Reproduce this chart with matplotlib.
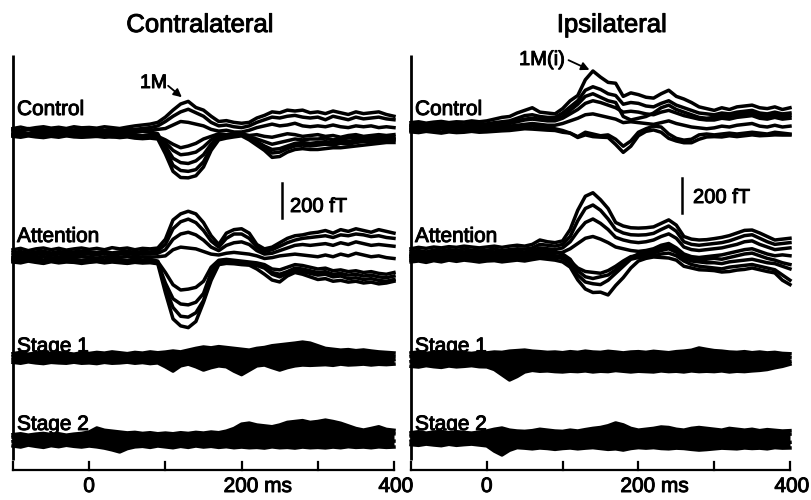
import numpy as np
import matplotlib.pyplot as plt
from matplotlib import patheffects
from matplotlib.patches import FancyArrowPatch

plt.rcParams['font.family'] = ['Liberation Sans', 'DejaVu Sans']

# sample times (ms)
TIME_MS = list(range(-100, 401, 10))

# ---- contralateral, field values per channel in fT ----
CONTRA_CONTROL = [
    [20, 28, 18, 25, 30, 22, 27, 20, 30, 24,
     26, 22, 30, 25, 20, 28, 35, 40, 45, 55,
     85, 125, 160, 175, 140, 125, 90, 60, 65, 55,
     50, 55, 80, 95, 115, 110, 125, 120, 125, 110,
     115, 105, 120, 110, 100, 115, 105, 110, 115, 100, 90],
    [10, 5, 15, 8, 12, 5, 10, 15, 8, 12,
     10, 15, 8, 12, 10, 5, 15, 20, 25, 35,
     60, 90, 115, 130, 110, 90, 55, 35, 40, 30,
     25, 35, 55, 70, 85, 80, 90, 95, 85, 80,
     85, 70, 90, 80, 70, 85, 75, 80, 85, 75, 70],
    [-5, 0, -8, 2, -3, -8, 0, -5, 3, -2,
     -5, 0, -6, 0, -5, -2, 0, 5, 10, 15,
     20, 40, 60, 55, 45, 35, 15, 5, 10, 0,
     0, 10, 25, 35, 45, 35, 40, 50, 35, 30,
     35, 30, 40, 30, 25, 35, 30, 35, 25, 30, 25],
    [-15, -10, -20, -12, -18, -10, -15, -20, -12, -18,
     -15, -20, -12, -18, -15, -20, -15, -20, -15, -25,
     -45, -70, -90, -80, -65, -40, -25, -10, -15, -10,
     -10, -20, -15, -25, -30, -20, -10, -15, -25, -20,
     -15, -25, -20, -30, -20, -15, -25, -20, -15, -20, -15],
    [-20, -25, -18, -22, -28, -20, -25, -18, -22, -28,
     -22, -25, -20, -28, -25, -22, -28, -30, -25, -32,
     -80, -150, -175, -180, -165, -130, -70, -30, -30, -20,
     -18, -35, -55, -80, -100, -95, -80, -65, -60, -65,
     -60, -55, -60, -50, -55, -45, -50, -45, -40, -45, -40],
    [-25, -30, -22, -28, -32, -25, -30, -22, -28, -30,
     -28, -25, -30, -27, -32, -28, -35, -38, -35, -40,
     -125, -225, -260, -262, -250, -200, -105, -45, -35, -28,
     -22, -45, -75, -105, -145, -140, -115, -100, -95, -100,
     -100, -95, -90, -90, -85, -80, -75, -70, -65, -60, -60],
    [-12, -18, -8, -15, -20, -12, -8, -15, -18, -10,
     -12, -8, -18, -10, -15, -10, -20, -25, -20, -28,
     -60, -105, -130, -125, -115, -85, -45, -20, -22, -15,
     -12, -28, -40, -55, -70, -60, -50, -40, -45, -40,
     -40, -35, -45, -38, -35, -30, -35, -30, -28, -32, -30],
    [15, 8, 20, 12, 18, 10, 15, 8, 12, 18,
     12, 18, 10, 15, 12, 18, 10, 5, 0, -10,
     -100, -190, -220, -225, -215, -170, -90, -35, -25, -20,
     -15, -30, -60, -90, -120, -115, -95, -80, -75, -80,
     -75, -70, -75, -65, -70, -60, -55, -55, -50, -50, -45],
]

CONTRA_ATTENTION = [
    [30, 38, 25, 35, 40, 30, 38, 28, 35, 40,
     32, 38, 30, 42, 35, 40, 30, 38, 35, 40,
     90, 200, 235, 250, 235, 185, 110, 60, 125, 145,
     150, 125, 60, 35, 45, 70, 95, 110, 115, 125,
     130, 140, 125, 145, 135, 150, 140, 130, 145, 135, 125],
    [15, 20, 10, 18, 22, 12, 20, 15, 18, 22,
     18, 15, 20, 12, 18, 22, 15, 20, 18, 25,
     60, 150, 190, 205, 185, 140, 80, 45, 95, 120,
     120, 95, 45, 20, 30, 50, 70, 85, 95, 100,
     105, 110, 100, 115, 110, 120, 115, 105, 110, 100, 95],
    [0, 5, -5, 3, 8, -2, 5, 0, 4, 8,
     5, 0, 8, -3, 5, 8, 2, 6, 5, 10,
     30, 90, 120, 130, 115, 85, 45, 25, 55, 70,
     75, 60, 25, 5, 10, 25, 40, 55, 60, 55,
     60, 65, 55, 70, 60, 75, 65, 55, 60, 55, 50],
    [-15, -10, -20, -12, -8, -18, -12, -15, -10, -8,
     -12, -18, -10, -15, -12, -8, -15, -10, -12, -10,
     -5, 30, 45, 40, 35, 20, 5, 0, 10, 15,
     10, 5, -5, -20, -15, -5, 0, 5, 0, -5,
     -10, 0, -10, 5, -5, 10, 0, -10, -5, -15, -20],
    [-25, -30, -20, -28, -35, -22, -30, -25, -28, -32,
     -28, -25, -32, -25, -30, -35, -28, -32, -30, -38,
     -100, -170, -200, -195, -185, -150, -70, -30, -25, -30,
     -35, -40, -45, -55, -80, -85, -70, -55, -60, -70,
     -80, -75, -90, -85, -95, -90, -100, -95, -105, -110, -100],
    [-35, -40, -30, -38, -45, -32, -40, -35, -38, -42,
     -38, -35, -42, -35, -40, -45, -38, -42, -40, -45,
     -160, -250, -280, -285, -270, -220, -100, -40, -35, -40,
     -45, -50, -55, -70, -100, -110, -95, -75, -80, -90,
     -100, -95, -110, -105, -115, -110, -120, -115, -125, -130, -120],
    [-20, -25, -15, -22, -28, -18, -24, -20, -25, -30,
     -25, -20, -28, -22, -26, -30, -24, -28, -25, -35,
     -190, -300, -350, -355, -330, -260, -130, -50, -40, -45,
     -50, -55, -60, -75, -110, -125, -105, -90, -95, -105,
     -115, -110, -125, -120, -135, -130, -140, -135, -145, -150, -140],
    [-40, -45, -35, -42, -48, -38, -45, -40, -42, -48,
     -42, -38, -45, -40, -44, -48, -42, -46, -44, -50,
     -215, -365, -405, -415, -380, -270, -145, -55, -48, -50,
     -55, -58, -80, -110, -143, -154, -120, -100, -110, -125,
     -140, -135, -150, -145, -155, -150, -160, -155, -165, -160, -150],
]

CONTRA_STAGE1 = [
    [25, 32, 22, 28, 35, 25, 30, 28, 22, 30,
     26, 32, 28, 35, 30, 25, 32, 28, 35, 30,
     34, 40, 35, 45, 55, 63, 58, 65, 60, 55,
     50, 45, 55, 60, 70, 75, 80, 85, 91, 85,
     70, 55, 50, 45, 48, 42, 46, 40, 35, 32, 29],
    [8, 15, 5, 12, 18, 8, 12, 10, 5, 12,
     10, 15, 12, 18, 12, 8, 15, 12, 18, 12,
     15, 20, 15, 25, 30, 38, 32, 40, 35, 30,
     28, 22, 30, 35, 40, 45, 50, 55, 60, 50,
     40, 30, 28, 22, 25, 20, 25, 18, 15, 12, 10],
    [-10, -5, -15, -8, -3, -12, -8, -10, -15, -8,
     -12, -8, -10, -5, -10, -15, -8, -12, -5, -10,
     -20, -40, -25, -15, -20, -35, -25, -20, -15, -30,
     -40, -25, -15, -10, -20, -35, -25, -15, -10, -15,
     -20, -15, -18, -25, -20, -15, -22, -18, -12, -15, -10],
    [-25, -30, -22, -28, -32, -25, -28, -30, -24, -30,
     -28, -32, -25, -30, -28, -24, -30, -26, -32, -28,
     -50, -75, -45, -35, -50, -69, -55, -45, -50, -75,
     -95, -70, -45, -40, -55, -69, -55, -45, -40, -42,
     -40, -38, -42, -35, -40, -38, -35, -40, -36, -38, -35],
]

CONTRA_STAGE2 = [
    [25, 30, 22, 28, 32, 25, 30, 22, 28, 32,
     40, 63, 50, 45, 40, 35, 38, 32, 36, 30,
     34, 30, 36, 32, 38, 34, 40, 36, 45, 60,
     85, 91, 80, 75, 70, 80, 95, 100, 105, 95,
     100, 108, 100, 90, 75, 60, 51, 60, 70, 55, 50],
    [10, 15, 5, 12, 18, 8, 15, 5, 12, 18,
     20, 40, 30, 25, 20, 15, 18, 12, 16, 10,
     15, 10, 18, 12, 20, 15, 22, 18, 25, 35,
     55, 60, 50, 45, 40, 50, 65, 70, 75, 65,
     70, 75, 70, 60, 50, 40, 30, 40, 45, 35, 30],
    [-15, -10, -20, -12, -8, -18, -12, -20, -15, -10,
     -15, -20, -25, -35, -40, -25, -20, -15, -18, -12,
     -15, -20, -12, -18, -10, -15, -8, -12, -5, 0,
     10, 15, 5, 0, -5, 5, 15, 20, 25, 15,
     20, 25, 20, 10, 0, -10, -15, -5, 0, -10, -12],
    [-40, -46, -35, -42, -48, -38, -44, -36, -42, -46,
     -40, -45, -52, -62, -74, -55, -45, -42, -48, -40,
     -45, -50, -42, -48, -40, -46, -42, -48, -44, -50,
     -46, -50, -48, -52, -45, -50, -48, -52, -46, -50,
     -48, -51, -46, -50, -44, -48, -46, -50, -45, -48, -46],
]

# ---- ipsilateral ----
IPSI_CONTROL = [
    [25, 30, 22, 28, 32, 25, 30, 28, 35, 30,
     35, 45, 55, 60, 80, 95, 110, 85, 80, 75,
     105, 150, 180, 270, 320, 285, 255, 250, 175, 195,
     185, 170, 165, 190, 210, 175, 160, 140, 115, 105,
     95, 110, 100, 115, 120, 125, 110, 105, 115, 100, 110],
    [10, 15, 8, 12, 18, 10, 15, 12, 20, 15,
     18, 25, 30, 35, 50, 65, 70, 60, 55, 55,
     80, 115, 150, 210, 230, 215, 190, 180, 130, 140,
     135, 120, 115, 135, 150, 125, 110, 95, 80, 75,
     70, 80, 75, 85, 90, 95, 80, 75, 85, 75, 80],
    [-5, 0, -8, -2, 3, -5, 0, -3, 5, 0,
     5, 10, 15, 20, 30, 40, 45, 40, 35, 35,
     50, 75, 100, 135, 150, 140, 125, 110, 85, 90,
     85, 75, 70, 85, 95, 80, 65, 55, 45, 40,
     40, 50, 45, 55, 60, 65, 50, 45, 55, 45, 50],
    [-15, -10, -18, -12, -8, -15, -10, -14, -8, -12,
     -10, -5, 0, 5, 10, 15, 20, 15, 10, 10,
     20, 35, 50, 70, 75, 65, 55, 45, 25, 30,
     25, 20, 15, 25, 35, 20, 10, 0, -5, -10,
     -5, 5, 0, 10, 15, 20, 5, 0, 10, 0, 5],
    [-20, -25, -18, -22, -28, -20, -25, -22, -18, -25,
     -20, -18, -15, -10, -5, 0, 5, 0, -5, -10,
     -20, -35, -55, -30, -40, -50, -45, -70, -110, -80,
     -30, -10, 5, 0, -40, -65, -75, -70, -45, -40,
     -45, -40, -35, -40, -35, -30, -35, -40, -30, -35, -40],
    [-28, -32, -25, -30, -35, -28, -32, -30, -25, -30,
     -28, -25, -22, -20, -15, -10, -12, -15, -18, -20,
     -30, -35, -60, -45, -55, -58, -60, -100, -145, -110,
     -50, -25, -17, -30, -65, -80, -90, -90, -70, -57,
     -55, -57, -50, -55, -50, -45, -50, -48, -45, -46, -46],
    [5, 10, 2, 8, 12, 5, 8, 5, 10, 8,
     10, 15, 20, 25, 35, 45, 50, 45, 40, 45,
     60, 95, 130, 175, 190, 170, 150, 140, 60, 40,
     50, 60, 80, 110, 125, 100, 85, 70, 55, 50,
     55, 65, 60, 70, 75, 80, 65, 60, 70, 60, 65],
]

IPSI_ATTENTION = [
    [30, 38, 32, 40, 35, 42, 38, 45, 40, 35,
     40, 45, 38, 45, 50, 45, 55, 80, 70, 65,
     75, 140, 250, 330, 350, 310, 260, 180, 160, 150,
     148, 150, 155, 175, 195, 165, 100, 85, 80, 82,
     88, 95, 105, 120, 135, 137, 120, 100, 80, 85, 90],
    [15, 20, 12, 22, 18, 25, 20, 28, 22, 18,
     22, 28, 20, 25, 30, 28, 35, 55, 50, 45,
     55, 100, 190, 260, 280, 250, 200, 140, 120, 110,
     108, 110, 118, 140, 160, 130, 70, 55, 50, 55,
     60, 65, 75, 90, 105, 110, 90, 70, 55, 60, 65],
    [0, 5, -3, 8, 2, 10, 5, 12, 8, 2,
     8, 12, 5, 10, 15, 12, 20, 35, 30, 25,
     35, 70, 130, 180, 200, 175, 140, 95, 80, 70,
     65, 70, 80, 100, 115, 90, 40, 25, 20, 25,
     30, 35, 45, 55, 70, 75, 55, 40, 25, 30, 35],
    [-15, -10, -18, -5, -12, -5, -10, -2, -8, -14,
     -8, -5, -12, -8, 0, -5, 5, 15, 10, 5,
     10, 30, 60, 90, 100, 85, 65, 40, 30, 20,
     15, 20, 30, 50, 60, 35, 0, -15, -20, -15,
     -10, -5, 5, 15, 25, 30, 15, 0, -10, -5, -10],
    [-25, -20, -30, -18, -25, -15, -22, -15, -20, -28,
     -20, -18, -25, -20, -12, -18, -10, 0, -5, -10,
     -15, -40, -80, -100, -105, -110, -95, -70, -40, -15,
     -10, -5, 5, 20, 30, 10, -25, -40, -45, -50,
     -50, -55, -45, -40, -35, -30, -40, -50, -55, -70, -85],
    [-35, -30, -40, -28, -35, -25, -32, -25, -30, -38,
     -30, -28, -35, -30, -22, -28, -20, -10, -15, -20,
     -25, -55, -120, -160, -170, -175, -150, -110, -70, -30,
     -20, -15, -10, 0, 5, -10, -40, -60, -70, -75,
     -80, -85, -75, -70, -65, -60, -70, -80, -90, -120, -150],
    [-45, -40, -48, -38, -45, -35, -42, -35, -40, -46,
     -40, -38, -45, -40, -35, -40, -32, -25, -30, -35,
     -45, -75, -148, -200, -220, -218, -234, -180, -135, -80,
     -40, -25, -17, -20, -23, -35, -70, -80, -90, -92,
     -95, -103, -100, -92, -88, -80, -90, -100, -108, -150, -175],
    [-10, -5, -12, 0, -8, 2, -5, 5, -2, -8,
     -2, 2, -5, 0, 8, 2, 10, 20, 15, 10,
     0, -30, -95, -130, -140, -130, -120, -90, -55, -20,
     0, 10, 20, 35, 45, 20, -15, -30, -35, -30,
     -25, -30, -20, -10, 0, 5, -10, -25, -35, -50, -60],
]

IPSI_STAGE1 = [
    [35, 40, 32, 38, 42, 35, 40, 36, 32, 38,
     35, 40, 38, 45, 48, 51, 45, 42, 38, 40,
     36, 42, 38, 45, 40, 38, 44, 40, 35, 40,
     42, 38, 44, 40, 36, 42, 45, 50, 63, 55,
     48, 45, 40, 38, 42, 36, 40, 35, 38, 32, 30],
    [15, 20, 12, 18, 22, 15, 20, 16, 12, 18,
     15, 20, 18, 22, 25, 28, 22, 20, 15, 18,
     15, 20, 15, 22, 18, 15, 20, 18, 12, 18,
     20, 15, 22, 18, 12, 20, 22, 28, 38, 30,
     25, 22, 18, 15, 20, 12, 18, 12, 15, 10, 8],
    [-15, -10, -18, -12, -8, -15, -10, -14, -18, -12,
     -15, -30, -55, -85, -70, -45, -35, -30, -25, -30,
     -35, -40, -30, -38, -45, -40, -35, -42, -38, -35,
     -40, -35, -42, -38, -45, -40, -35, -30, -25, -30,
     -35, -30, -38, -32, -28, -35, -30, -25, -28, -20, -15],
    [-42, -46, -38, -44, -48, -40, -45, -42, -38, -44,
     -45, -60, -90, -120, -100, -74, -65, -70, -68, -72,
     -74, -70, -72, -68, -74, -70, -72, -66, -70, -74,
     -70, -72, -74, -68, -72, -70, -74, -68, -72, -70,
     -72, -68, -74, -70, -72, -68, -65, -60, -50, -42, -30],
]

IPSI_STAGE2 = [
    [30, 36, 28, 34, 38, 30, 36, 32, 28, 34,
     40, 50, 57, 45, 40, 38, 42, 50, 45, 40,
     38, 45, 40, 48, 55, 60, 70, 86, 75, 55,
     45, 50, 55, 63, 60, 50, 45, 55, 60, 55,
     50, 45, 55, 50, 45, 50, 42, 48, 44, 40, 42],
    [12, 18, 10, 16, 20, 12, 18, 14, 10, 16,
     20, 30, 35, 25, 20, 18, 22, 30, 25, 20,
     18, 25, 20, 28, 35, 40, 50, 60, 50, 35,
     25, 30, 35, 40, 38, 30, 25, 35, 40, 35,
     30, 25, 35, 30, 25, 30, 22, 28, 24, 20, 22],
    [-18, -12, -20, -14, -10, -18, -12, -16, -20, -14,
     -20, -50, -75, -45, -30, -25, -20, -15, -22, -28,
     -30, -25, -35, -28, -20, -25, -30, -35, -40, -30,
     -25, -20, -15, -25, -35, -40, -35, -30, -25, -30,
     -35, -30, -25, -30, -35, -28, -32, -30, -35, -28, -25],
    [-38, -42, -35, -40, -44, -36, -42, -38, -35, -40,
     -45, -75, -97, -70, -55, -58, -62, -57, -60, -65,
     -60, -57, -62, -58, -55, -60, -65, -62, -69, -60,
     -55, -58, -55, -60, -62, -58, -60, -65, -69, -66,
     -62, -58, -60, -62, -57, -60, -58, -62, -55, -58, -57],
]

CONDITIONS = ['Control', 'Attention', 'Stage 1', 'Stage 2']
PANEL_TITLES = ['Contralateral', 'Ipsilateral']
PANEL_DATA = [
    [CONTRA_CONTROL, CONTRA_ATTENTION, CONTRA_STAGE1, CONTRA_STAGE2],
    [IPSI_CONTROL, IPSI_ATTENTION, IPSI_STAGE1, IPSI_STAGE2],
]
# conditions without an evoked response print as one solid noise band
SOLID_BAND = [False, False, True, True]
TICKS_MS = [-100, 0, 100, 200, 300, 400]
SCALE_FT = 200

# ---- layout (figure pixels, y measured from top) ----
W, H = 812, 500
FT_PER_PX = 200 / 35
PANEL_X = [(13, 394), (411, 790)]          # pixel x of -100 ms and 400 ms
BASE_ROWS = [[132, 255, 358, 439], [127, 254, 359, 438]]
LABEL_ROWS = [115, 242, 352, 430]
TITLE_X = [200, 612]
SCALE_X_MS = [253, 257]
SCALE_BOTTOM = [218, 213]
SCALE_TEXT = [(290, 212), (693, 203)]

# scanned print looks heavy: thicken glyphs a little
HEAVY = [patheffects.withStroke(linewidth=0.7, foreground='black')]


def yrow(px):
    return (H - px) * FT_PER_PX


def fx(px):
    return px / W


def fy(px):
    return 1 - px / H


def label(x, y, s, size, ha='left'):
    fig.text(fx(x), fy(y), s, ha=ha, va='baseline', fontsize=size,
             path_effects=HEAVY)


fig = plt.figure(figsize=(W / 100, H / 100), dpi=100)
fig.patch.set_facecolor('white')

for p in range(2):
    x0, x1 = PANEL_X[p]
    ax = fig.add_axes([x0 / W, 0, (x1 - x0) / W, 1])
    ax.set_xlim(-100, 400)
    ax.set_ylim(0, H * FT_PER_PX)
    ax.axis('off')

    # waveforms
    for c, traces in enumerate(PANEL_DATA[p]):
        base = yrow(BASE_ROWS[p][c])
        arr = np.array(traces) + base
        if SOLID_BAND[c]:
            ax.fill_between(TIME_MS, arr.min(axis=0), arr.max(axis=0),
                            color='black', lw=0, clip_on=False)
        for row in arr:
            ax.plot(TIME_MS, row, color='black', lw=2.5,
                    solid_joinstyle='round', clip_on=False)

    # vertical baseline axis at -100 ms
    ax.plot([-100, -100], [yrow(55), yrow(460)], color='black', lw=2.0,
            clip_on=False, solid_capstyle='butt')

    # time axis with upward ticks
    y_ax = yrow(470)
    ax.plot([-100, 400], [y_ax, y_ax], color='black', lw=1.6, clip_on=False)
    for t in TICKS_MS:
        ax.plot([t, t], [y_ax, yrow(462)], color='black', lw=1.6, clip_on=False)

    ms_per_px = 500 / (x1 - x0)
    label(x0 + 100 / ms_per_px, 492, '0', 15, ha='center')
    label(x0 + 300 / ms_per_px - 18, 492, '200 ms', 15)
    label(x0 + 500 / ms_per_px + 2, 492, '400', 15, ha='center')

    # scale bar
    sb = yrow(SCALE_BOTTOM[p])
    ax.plot([SCALE_X_MS[p]] * 2, [sb, sb + SCALE_FT], color='black', lw=1.8,
            clip_on=False)
    tx, ty = SCALE_TEXT[p]
    label(tx, ty, '200 fT', 14.5)

    # condition labels
    for c, name in enumerate(CONDITIONS):
        label(x0 + 4, LABEL_ROWS[c], name, 15)

    label(TITLE_X[p], 32, PANEL_TITLES[p], 18.5, ha='center')

# peak markers
label(140, 88, '1M', 14)
label(519, 65, '1M(i)', 14.5)
arrow = dict(arrowstyle='-|>', color='black', lw=1.3, mutation_scale=12)
fig.add_artist(FancyArrowPatch((166, H - 84), (184, H - 99),
                               transform=None, **arrow))
fig.add_artist(FancyArrowPatch((566, H - 59), (592, H - 71),
                               transform=None, **arrow))

fig.savefig('out.png', dpi=100, facecolor='white')
